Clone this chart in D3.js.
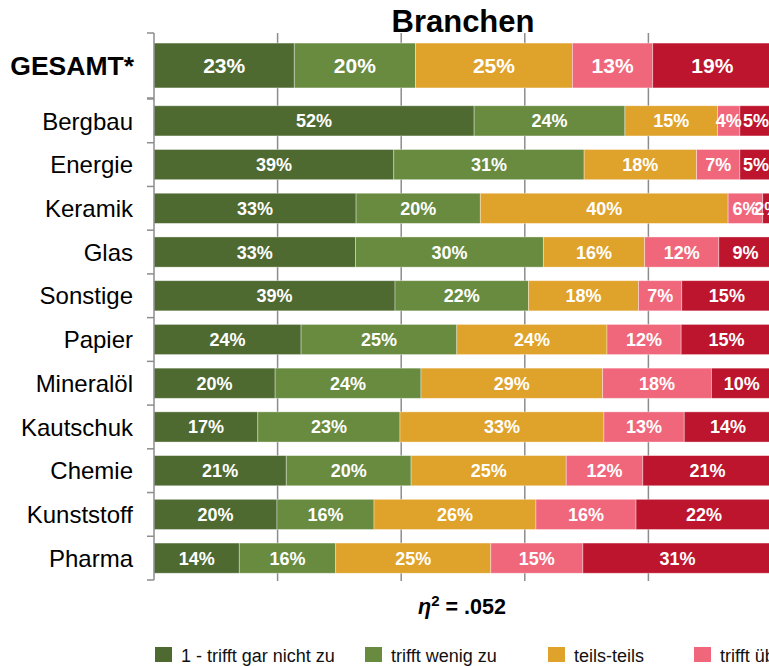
<!DOCTYPE html>
<html>
<head>
<meta charset="utf-8">
<script src="https://cdn.jsdelivr.net/npm/d3@7"></script>
<style>
  body { margin: 0; background: #fff; }
  svg { display: block; font-family: "Liberation Sans", Arial, sans-serif; }
</style>
</head>
<body>
<div id="chart"></div>
<script>
// answer categories (legend) and colours
const series = ["1 - trifft gar nicht zu", "trifft wenig zu", "teils-teils", "trifft überwiegend zu", "5 - trifft völlig zu"];
const colors = ["#4f6a31", "#698b3f", "#dfa22a", "#f0677c", "#bd152d"];

// rows
const totalLabel = "GESAMT*";
const totalValues = [22.7, 19.6, 25.4, 13.0, 19.3];

const branches = ["Bergbau", "Energie", "Keramik", "Glas", "Sonstige", "Papier", "Mineralöl", "Kautschuk", "Chemie", "Kunststoff", "Pharma"];
const gar      = [51.8, 38.8, 32.7, 32.6, 39.0, 23.8, 19.6, 16.8, 21.4, 19.9, 13.8];
const wenig    = [24.4, 30.8, 20.1, 30.4, 21.6, 25.2, 23.6, 23.0, 20.2, 15.7, 15.6];
const teils    = [15.0, 18.2, 40.1, 16.4, 17.8, 24.3, 29.4, 33.0, 25.1, 26.2, 25.1];
const ueberw   = [ 3.6,  7.0,  5.6, 12.0,  7.0, 12.0, 17.6, 13.0, 12.4, 16.2, 14.9];
const voellig  = [ 5.2,  5.2,  1.5,  8.6, 14.6, 14.7,  9.8, 14.2, 20.9, 22.0, 30.6];

const gridTicks = [20, 40, 60, 80, 100];
const title = "Branchen";
const etaText = ".052";

const width = 769, height = 666;
const axisColor = "#8c8c8c";

const svg = d3.select("#chart").append("svg")
    .attr("width", width)
    .attr("height", height);

// x goes a little past the window, like the original
const x = d3.scaleLinear().domain([0, 100]).range([154, 772]);

const yTotal = d3.scaleBand().domain([totalLabel]).range([33, 98])
    .paddingInner(0.31).paddingOuter(0.155);
const y = d3.scaleBand().domain(branches).range([99, 580])
    .paddingInner(0.31).paddingOuter(0.155);

// build stacked rows
function stackRow(name, vals) {
    let acc = 0;
    return vals.map((v, i) => {
        const s = {name: name, key: i, x0: acc, x1: acc + v, v: v};
        acc += v;
        return s;
    });
}
const totalRow = stackRow(totalLabel, totalValues);
const rows = branches.map((b, i) => stackRow(b, [gar[i], wenig[i], teils[i], ueberw[i], voellig[i]]));

// vertical grid lines
svg.append("g").selectAll("line")
    .data(gridTicks)
    .enter().append("line")
    .attr("x1", d => x(d)).attr("x2", d => x(d))
    .attr("y1", 33).attr("y2", 581)
    .attr("stroke", axisColor)
    .attr("stroke-width", 1.5);

// bars
function drawRow(g, segs, yPos, h, fontSize) {
    g.selectAll("rect")
        .data(segs)
        .enter().append("rect")
        .attr("x", d => x(d.x0))
        .attr("y", yPos)
        .attr("width", d => x(d.x1) - x(d.x0))
        .attr("height", h)
        .attr("fill", d => colors[d.key])
        .attr("stroke", "rgba(255,255,255,0.45)")
        .attr("stroke-width", 0.8);

    g.selectAll("text")
        .data(segs)
        .enter().append("text")
        .attr("x", d => (x(d.x0) + x(d.x1)) / 2)
        .attr("y", yPos + h / 2)
        .attr("dy", "0.36em")
        .attr("text-anchor", "middle")
        .attr("fill", "#fff")
        .attr("font-weight", "bold")
        .attr("font-size", fontSize)
        .text(d => Math.round(d.v) + "%");
}

drawRow(svg.append("g"), totalRow, yTotal(totalLabel), yTotal.bandwidth(), 21);
rows.forEach((r, i) => {
    drawRow(svg.append("g"), r, y(branches[i]), y.bandwidth(), 18);
});

// left axis with ticks on the band boundaries
const axis = svg.append("g").attr("stroke", axisColor).attr("stroke-width", 1.5);
axis.append("line").attr("x1", 154).attr("x2", 154).attr("y1", 33).attr("y2", 580);
const bounds = [yTotal.range()[0], yTotal.range()[1]]
    .concat(branches.map(b => y(b) - y.step() * y.paddingInner() / 2))
    .concat([y.range()[1]]);
axis.selectAll(".tick")
    .data(bounds)
    .enter().append("line")
    .attr("class", "tick")
    .attr("x1", 147).attr("x2", 154)
    .attr("y1", d => d).attr("y2", d => d);

// category labels
svg.append("text")
    .attr("x", 134)
    .attr("y", yTotal(totalLabel) + yTotal.bandwidth() / 2)
    .attr("dy", "0.36em")
    .attr("text-anchor", "end")
    .attr("font-weight", "bold")
    .attr("font-size", 26.5)
    .text(totalLabel);

svg.append("g").selectAll("text")
    .data(branches)
    .enter().append("text")
    .attr("x", 133)
    .attr("y", d => y(d) + y.bandwidth() / 2)
    .attr("dy", "0.36em")
    .attr("text-anchor", "end")
    .attr("font-size", 24)
    .text(d => d);

// title
svg.append("text")
    .attr("x", 463)
    .attr("y", 32)
    .attr("text-anchor", "middle")
    .attr("font-weight", "bold")
    .attr("font-size", 31)
    .text(title);

// eta squared
const eta = svg.append("text")
    .attr("x", 462)
    .attr("y", 614)
    .attr("text-anchor", "middle")
    .attr("font-weight", "bold")
    .attr("font-size", 21.5);
eta.append("tspan").attr("font-style", "italic").text("η");
eta.append("tspan").attr("font-size", 15).attr("dy", -8).text("2");
eta.append("tspan").attr("dy", 8).text(" = " + etaText);

// legend
const legendX = [155, 365, 548, 694, 900];
const legend = svg.append("g").selectAll("g")
    .data(series)
    .enter().append("g")
    .attr("transform", (d, i) => "translate(" + legendX[i] + ",647)");
legend.append("rect")
    .attr("width", 17).attr("height", 15)
    .attr("fill", (d, i) => colors[i]);
legend.append("text")
    .attr("x", 26)
    .attr("y", 15)
    .attr("font-size", 18)
    .attr("fill", "#111")
    .text(d => d);
</script>
</body>
</html>
